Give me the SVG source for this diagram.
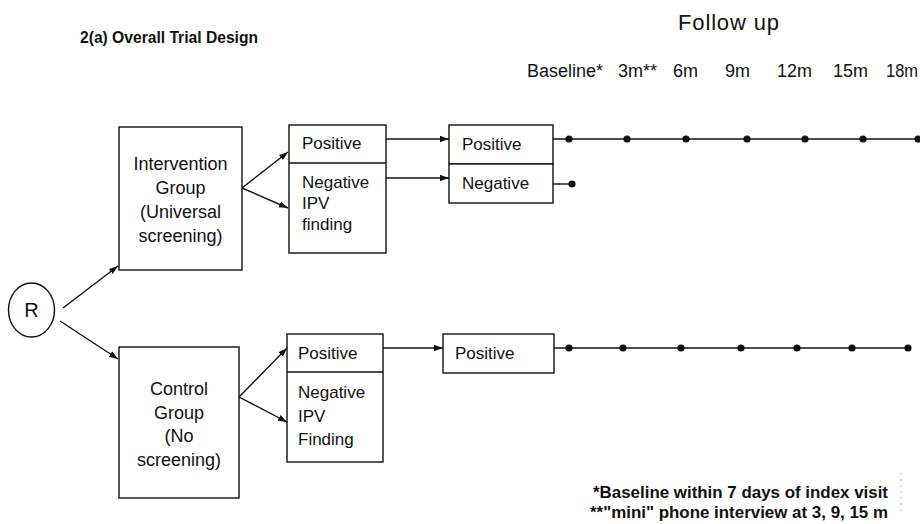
<svg xmlns="http://www.w3.org/2000/svg" width="920" height="524" viewBox="0 0 920 524">
<defs>
<marker id="ah" markerUnits="userSpaceOnUse" markerWidth="10" markerHeight="8" refX="9" refY="4" orient="auto">
<path d="M0,0.8 L9,4 L0,7.2 Z" fill="#111"/>
</marker>
<style>
.box{fill:#fff;stroke:#111;stroke-width:1.4}
.t{font-family:"Liberation Sans",Arial,sans-serif;fill:#111}
.lbl{font-size:18px}
.sm{font-size:17px}
.c{text-anchor:middle}
.ln{stroke:#111;stroke-width:1.4;fill:none}
.ar{stroke:#111;stroke-width:1.4;fill:none;marker-end:url(#ah)}
.dot{fill:#111}
</style>
</defs>
<rect width="920" height="524" fill="#fff"/>

<g id="header">
<text class="t" x="80" y="43" font-size="16" font-weight="bold" textLength="178" lengthAdjust="spacingAndGlyphs">2(a) Overall Trial Design</text>
<text class="t" x="678" y="29.5" font-size="22" textLength="101">Follow up</text>
<text class="t lbl" x="527" y="77" textLength="76" lengthAdjust="spacingAndGlyphs">Baseline*</text>
<text class="t lbl" x="618" y="77">3m**</text>
<text class="t lbl" x="673" y="77">6m</text>
<text class="t lbl" x="725" y="77">9m</text>
<text class="t lbl" x="777" y="77">12m</text>
<text class="t lbl" x="833" y="77">15m</text>
<text class="t lbl" x="886" y="77" textLength="32" lengthAdjust="spacingAndGlyphs">18m</text>
</g>

<g id="connectors">
<line class="ar" x1="63" y1="308" x2="118" y2="266"/>
<line class="ar" x1="60" y1="321" x2="118" y2="359"/>
<line class="ar" x1="242" y1="188" x2="288" y2="152"/>
<line class="ar" x1="242" y1="188" x2="288" y2="208"/>
<line class="ar" x1="239" y1="397" x2="287" y2="348"/>
<line class="ar" x1="239" y1="397" x2="287" y2="422"/>
<line class="ar" x1="386" y1="139" x2="449" y2="139"/>
<line class="ar" x1="386" y1="178" x2="449" y2="178"/>
<line class="ar" x1="383" y1="348" x2="443" y2="348"/>
<line class="ln" x1="553" y1="139" x2="920" y2="139"/>
<line class="ln" x1="553" y1="184" x2="572" y2="184"/>
<line class="ln" x1="554" y1="348" x2="908" y2="348"/>
<g id="dots-intervention">
<circle class="dot" cx="569" cy="139" r="3.6"/>
<circle class="dot" cx="627" cy="139" r="3.6"/>
<circle class="dot" cx="686" cy="139" r="3.6"/>
<circle class="dot" cx="747" cy="139" r="3.6"/>
<circle class="dot" cx="805" cy="139" r="3.6"/>
<circle class="dot" cx="863" cy="139" r="3.6"/>
<circle class="dot" cx="918" cy="139" r="3.6"/>
<circle class="dot" cx="572" cy="184" r="3.6"/>
</g>
<g id="dots-control">
<circle class="dot" cx="569" cy="348" r="3.6"/>
<circle class="dot" cx="623" cy="348" r="3.6"/>
<circle class="dot" cx="681" cy="348" r="3.6"/>
<circle class="dot" cx="741" cy="348" r="3.6"/>
<circle class="dot" cx="797" cy="348" r="3.6"/>
<circle class="dot" cx="852" cy="348" r="3.6"/>
<circle class="dot" cx="908" cy="348" r="3.6"/>
</g>
</g>

<g id="node-R">
<ellipse class="box" cx="31.5" cy="310" rx="23" ry="27"/>
<text class="t c" x="31.5" y="317" font-size="20">R</text>
</g>

<g id="node-intervention">
<rect class="box" x="119" y="127" width="123" height="143"/>
<text class="t lbl c" x="180.5" y="170">Intervention</text>
<text class="t lbl c" x="180.5" y="194">Group</text>
<text class="t lbl c" x="180.5" y="218">(Universal</text>
<text class="t lbl c" x="180.5" y="242">screening)</text>
</g>

<g id="node-control">
<rect class="box" x="119" y="347" width="120" height="151"/>
<text class="t lbl c" x="179" y="395">Control</text>
<text class="t lbl c" x="179" y="418.5">Group</text>
<text class="t lbl c" x="179" y="442">(No</text>
<text class="t lbl c" x="179" y="465.5">screening)</text>
</g>

<g id="node-int-screen">
<rect class="box" x="289" y="125" width="97" height="128"/>
<line class="ln" x1="289" y1="163" x2="386" y2="163"/>
<text class="t sm" x="302" y="149">Positive</text>
<text class="t sm" x="302" y="188">Negative</text>
<text class="t sm" x="302" y="209">IPV</text>
<text class="t sm" x="302" y="230">finding</text>
</g>

<g id="node-ctl-screen">
<rect class="box" x="287" y="334" width="96" height="128"/>
<line class="ln" x1="287" y1="372" x2="383" y2="372"/>
<text class="t sm" x="298" y="359">Positive</text>
<text class="t sm" x="298" y="398">Negative</text>
<text class="t sm" x="298" y="421.5">IPV</text>
<text class="t sm" x="298" y="445">Finding</text>
</g>

<g id="node-int-positive">
<rect class="box" x="449" y="125" width="104" height="39"/>
<text class="t sm" x="462" y="150">Positive</text>
</g>
<g id="node-int-negative">
<rect class="box" x="449" y="164" width="104" height="39"/>
<text class="t sm" x="462" y="189">Negative</text>
</g>
<g id="node-ctl-positive">
<rect class="box" x="443" y="334" width="111" height="39"/>
<text class="t sm" x="455" y="359">Positive</text>
</g>

<g id="footnote">
<text class="t" x="593" y="498" font-size="16.5" font-weight="bold" textLength="295" lengthAdjust="spacingAndGlyphs">*Baseline within 7 days of index visit</text>
<text class="t" x="590" y="518" font-size="16.5" font-weight="bold" textLength="298" lengthAdjust="spacingAndGlyphs">**"mini" phone interview at 3, 9, 15 m</text>
<line x1="901" y1="473" x2="901" y2="512" stroke="#bbb" stroke-width="1" stroke-dasharray="2,4"/>
</g>
</svg>
